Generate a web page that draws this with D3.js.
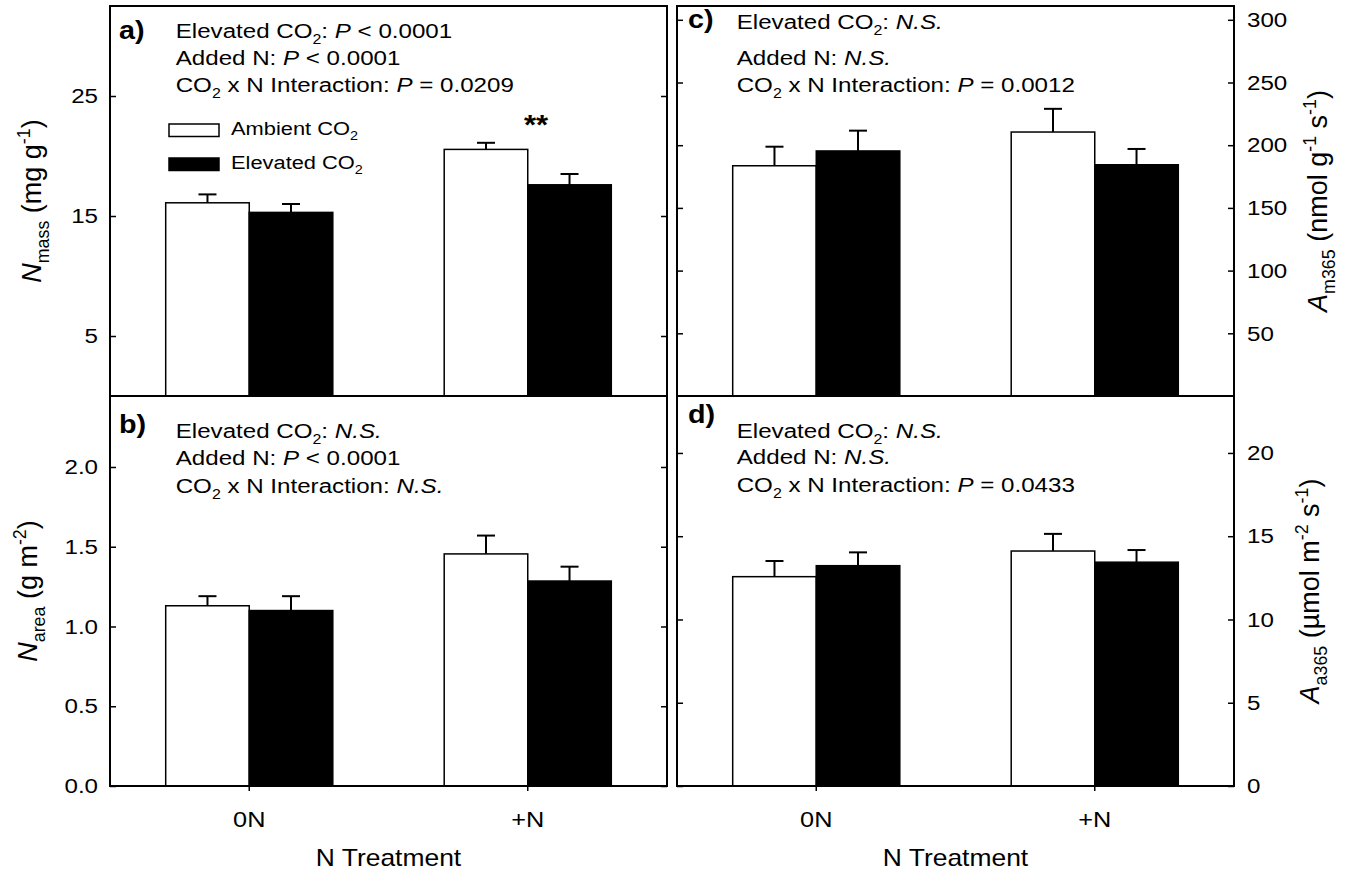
<!DOCTYPE html>
<html>
<head>
<meta charset="utf-8">
<script src="https://cdn.jsdelivr.net/npm/d3@7"></script>
<style>
  body { margin: 0; background: white; }
  text { font-family: "Liberation Sans", Arial, Helvetica, sans-serif; white-space: pre; }
</style>
</head>
<body>
<div id="vis"></div>
<script>
// data (means and standard errors)
let categories = ['0N', '+N'];
let series = ['Ambient CO2', 'Elevated CO2'];

let nmassAmb = [16.1, 20.55], nmassAmbSE = [0.7, 0.55];
let nmassElev = [15.3, 17.6], nmassElevSE = [0.7, 0.9];

let nareaAmb = [1.13, 1.455], nareaAmbSE = [0.06, 0.115];
let nareaElev = [1.10, 1.285], nareaElevSE = [0.09, 0.09];

let am365Amb = [183.6, 210.5], am365AmbSE = [15.2, 18.5];
let am365Elev = [195.4, 184.4], am365ElevSE = [16.2, 12.6];

let aa365Amb = [12.57, 14.11], aa365AmbSE = [0.94, 1.03];
let aa365Elev = [13.23, 13.44], aa365ElevSE = [0.8, 0.73];

let ticksA = [5, 15, 25];
let ticksB = [0, 0.5, 1.0, 1.5, 2.0];
let ticksC = [50, 100, 150, 200, 250, 300];
let ticksD = [0, 5, 10, 15, 20];

let SX = 1.15; // the figure is a bit wider than tall, stretch text the same way

let svg = d3.select('#vis')
  .append('svg')
  .attr('width', 1358)
  .attr('height', 876)
  .style('background-color', 'white');

// text made from pieces: plain strings, {i:..}, {sub:..}, {sup:..}, {b:..}
function rich(parent, x, y, parts, fs, extra, sx) {
  let k = sx === undefined ? SX : sx;
  let t = parent.append('text')
    .attr('transform', `translate(${x},${y}) scale(${k},1)` + (extra || ''))
    .attr('font-size', fs)
    .attr('fill', 'black');
  let shift = 0;
  parts.forEach(p => {
    if (typeof p === 'string') p = {t: p};
    let txt = p.t || p.i || p.sub || p.sup || p.b;
    let target = p.sub ? fs * 0.3 : (p.sup ? -fs * 0.42 : 0);
    let ts = t.append('tspan').attr('dy', target - shift).text(txt);
    if (p.sub || p.sup) ts.attr('font-size', fs * 0.66);
    if (p.i) ts.style('font-style', 'italic');
    if (p.b) ts.style('font-weight', 'bold');
    shift = target;
  });
  return t;
}

let cols = [[110, 667], [677, 1234]];
let rows = [[6, 396], [396, 786]];

let panels = [
  {
    key: 'a)', col: 0, row: 0, max: 32.5, ticks: ticksA, fmt: d3.format('d'), side: 'left',
    amb: nmassAmb, ambSE: nmassAmbSE, elev: nmassElev, elevSE: nmassElevSE,
    letter: [119, 39], textX: 175.7, lines: [38, 65, 92],
    stats: [
      ['Elevated CO', {sub: '2'}, ': ', {i: 'P'}, ' < 0.0001'],
      ['Added N: ', {i: 'P'}, ' < 0.0001'],
      ['CO', {sub: '2'}, ' x N Interaction: ', {i: 'P'}, ' = 0.0209']
    ],
    label: [{i: 'N'}, {sub: 'mass'}, ' (mg g', {sup: '-1'}, ')'], labelX: 41
  },
  {
    key: 'b)', col: 0, row: 1, max: 2.445, ticks: ticksB, fmt: d3.format('.1f'), side: 'left',
    amb: nareaAmb, ambSE: nareaAmbSE, elev: nareaElev, elevSE: nareaElevSE,
    letter: [119, 433], textX: 175.7, lines: [438, 465, 493],
    stats: [
      ['Elevated CO', {sub: '2'}, ': ', {i: 'N.S.'}],
      ['Added N: ', {i: 'P'}, ' < 0.0001'],
      ['CO', {sub: '2'}, ' x N Interaction: ', {i: 'N.S.'}]
    ],
    label: [{i: 'N'}, {sub: 'area'}, ' (g m', {sup: '-2'}, ')'], labelX: 37
  },
  {
    key: 'c)', col: 1, row: 0, max: 311, ticks: ticksC, fmt: d3.format('d'), side: 'right',
    amb: am365Amb, ambSE: am365AmbSE, elev: am365Elev, elevSE: am365ElevSE,
    letter: [688, 28], textX: 736.7, lines: [29, 65, 92],
    stats: [
      ['Elevated CO', {sub: '2'}, ': ', {i: 'N.S.'}],
      ['Added N: ', {i: 'N.S.'}],
      ['CO', {sub: '2'}, ' x N Interaction: ', {i: 'P'}, ' = 0.0012']
    ],
    label: [{i: 'A'}, {sub: 'm365'}, ' (nmol g', {sup: '-1'}, ' s', {sup: '-1'}, ')'], labelX: 1327
  },
  {
    key: 'd)', col: 1, row: 1, max: 23.42, ticks: ticksD, fmt: d3.format('d'), side: 'right',
    amb: aa365Amb, ambSE: aa365AmbSE, elev: aa365Elev, elevSE: aa365ElevSE,
    letter: [688, 423], textX: 736.7, lines: [438, 464, 492],
    stats: [
      ['Elevated CO', {sub: '2'}, ': ', {i: 'N.S.'}],
      ['Added N: ', {i: 'N.S.'}],
      ['CO', {sub: '2'}, ' x N Interaction: ', {i: 'P'}, ' = 0.0433']
    ],
    label: [{i: 'A'}, {sub: 'a365'}, ' (\u00b5mol m', {sup: '-2'}, ' s', {sup: '-1'}, ')'], labelX: 1319
  }
];

panels.forEach(p => {
  let [x0, x1] = cols[p.col];
  let [y0, y1] = rows[p.row];
  let g = svg.append('g');

  let x = d3.scaleBand().domain(categories).range([x0, x1]);
  let bw = x.bandwidth();
  let xs = d3.scaleBand().domain(series).range([bw * 0.2, bw * 0.8]);
  let y = d3.scaleLinear().domain([0, p.max]).range([y1, y0]);

  let rowsData = [];
  categories.forEach((c, i) => {
    rowsData.push({cat: c, s: series[0], v: p.amb[i], se: p.ambSE[i], fill: 'white'});
    rowsData.push({cat: c, s: series[1], v: p.elev[i], se: p.elevSE[i], fill: 'black'});
  });

  // error bars (upper only)
  let eb = g.selectAll('.eb').data(rowsData).enter().append('g');
  eb.append('line')
    .attr('x1', d => x(d.cat) + xs(d.s) + xs.bandwidth() / 2)
    .attr('x2', d => x(d.cat) + xs(d.s) + xs.bandwidth() / 2)
    .attr('y1', d => y(d.v))
    .attr('y2', d => y(d.v + d.se))
    .attr('stroke', 'black').attr('stroke-width', 2);
  eb.append('line')
    .attr('x1', d => x(d.cat) + xs(d.s) + xs.bandwidth() / 2 - 9)
    .attr('x2', d => x(d.cat) + xs(d.s) + xs.bandwidth() / 2 + 9)
    .attr('y1', d => y(d.v + d.se))
    .attr('y2', d => y(d.v + d.se))
    .attr('stroke', 'black').attr('stroke-width', 2);

  g.selectAll('.bar').data(rowsData).enter().append('rect')
    .attr('x', d => x(d.cat) + xs(d.s))
    .attr('y', d => y(d.v))
    .attr('width', xs.bandwidth())
    .attr('height', d => y(0) - y(d.v))
    .attr('fill', d => d.fill)
    .attr('stroke', 'black')
    .attr('stroke-width', 1.5);

  // labelled y axis and mirrored ticks on the other side
  let main = p.side === 'left' ? d3.axisLeft(y) : d3.axisRight(y);
  let mirror = p.side === 'left' ? d3.axisRight(y) : d3.axisLeft(y);
  let mainX = p.side === 'left' ? x0 : x1;
  let mirrorX = p.side === 'left' ? x1 : x0;

  let ax = g.append('g')
    .attr('transform', `translate(${mainX},0)`)
    .call(main.tickValues(p.ticks).tickFormat(p.fmt).tickSize(-6));
  ax.select('.domain').remove();
  ax.selectAll('.tick line').attr('stroke-width', 1.5);
  ax.selectAll('.tick text')
    .attr('font-size', 21)
    .attr('fill', 'black')
    .attr('font-family', '"Liberation Sans", Arial, sans-serif')
    .attr('x', (p.side === 'left' ? -12 : 13) / SX)
    .attr('transform', `scale(${SX},1)`);

  let mx = g.append('g')
    .attr('transform', `translate(${mirrorX},0)`)
    .call(mirror.tickValues(p.ticks).tickFormat('').tickSize(-6));
  mx.select('.domain').remove();
  mx.selectAll('.tick line').attr('stroke-width', 1.5);

  // x axis at the bottom row
  if (p.row === 1) {
    let xa = g.append('g')
      .attr('transform', `translate(0,${y1})`)
      .call(d3.axisBottom(x).tickSize(5));
    xa.select('.domain').remove();
    xa.selectAll('.tick line').attr('stroke-width', 1.5);
    xa.selectAll('.tick text')
      .attr('font-size', 22)
      .attr('fill', 'black')
      .attr('font-family', '"Liberation Sans", Arial, sans-serif')
      .attr('y', 25)
      .attr('dy', '0.71em')
      .attr('transform', `scale(${SX},1)`);
    let t = rich(g, (x0 + x1) / 2, 866, ['N Treatment'], 23);
    t.attr('text-anchor', 'middle');
  }

  // frame
  g.append('rect')
    .attr('x', x0).attr('y', y0)
    .attr('width', x1 - x0).attr('height', y1 - y0)
    .attr('fill', 'none')
    .attr('stroke', 'black')
    .attr('stroke-width', 2);

  // panel letter and statistics
  rich(g, p.letter[0], p.letter[1], [{b: p.key}], 25);
  p.stats.forEach((line, i) => rich(g, p.textX, p.lines[i], line, 21));

  // axis title
  let lab = rich(g, p.labelX, (y0 + y1) / 2, p.label, 27, ' rotate(-90)', 1);
  lab.attr('text-anchor', 'middle');
});

// legend inside panel a
let legendY = [124, 158];
let legendFill = ['white', 'black'];
series.forEach((s, i) => {
  svg.append('rect')
    .attr('x', 169).attr('y', legendY[i])
    .attr('width', 50).attr('height', 12.5)
    .attr('fill', legendFill[i])
    .attr('stroke', 'black').attr('stroke-width', 1.5);
  rich(svg, 231, legendY[i] + 10.5, [s.replace('CO2', 'CO'), {sub: '2'}], 19);
});

// significance mark over +N in panel a
let tA = rich(svg, 536, 134, [{b: '**'}], 27);
tA.attr('text-anchor', 'middle');
</script>
</body>
</html>
